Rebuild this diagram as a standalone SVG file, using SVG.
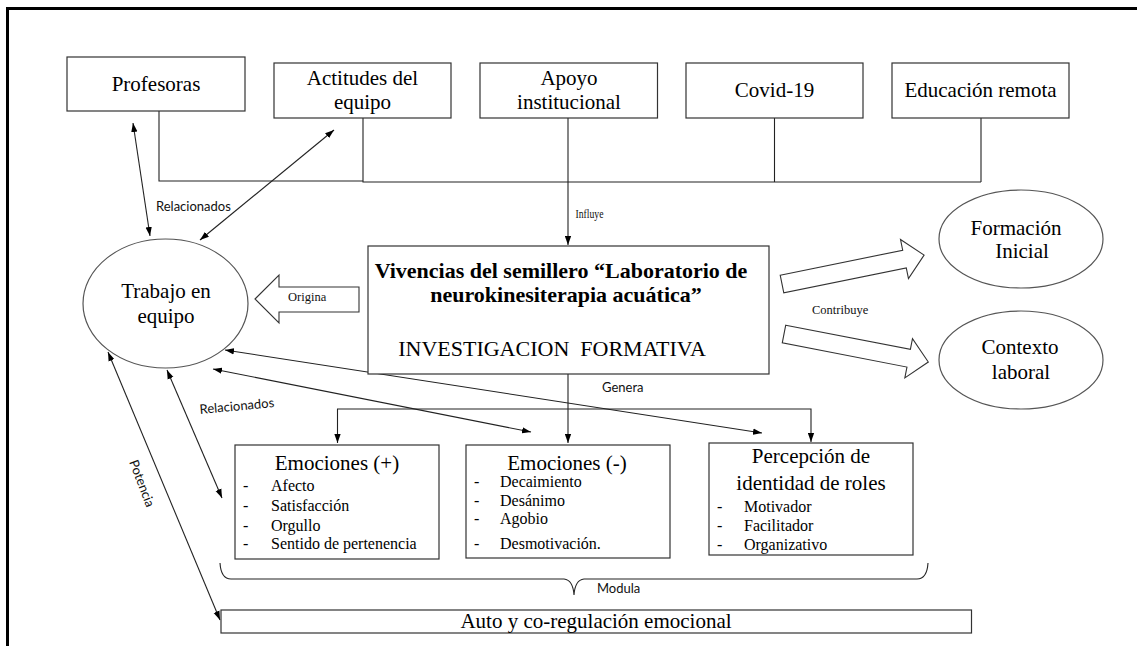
<svg xmlns="http://www.w3.org/2000/svg" width="1137" height="646" viewBox="0 0 1137 646">
<defs>
<marker id="ah" viewBox="0 0 10 7" refX="10" refY="3.5" markerWidth="9" markerHeight="7" markerUnits="userSpaceOnUse" orient="auto-start-reverse"><path d="M0,0 L10,3.5 L0,7 z" fill="#000"/></marker>
<style>
.box{fill:#fff;stroke:#333;stroke-width:1.2}
.ell{fill:#fff;stroke:#555;stroke-width:1.2}
.t{font-family:"Liberation Serif","Times New Roman",serif;fill:#000}
.c{text-anchor:middle}
.s21{font-size:21px}
.s16{font-size:16px}
.b{font-weight:bold}
.lbl{font-family:Lato,"Open Sans",sans-serif;font-size:13px;fill:#111}
.sl{font-family:"Liberation Serif","Times New Roman",serif;font-size:12.5px;fill:#111}
.ln{fill:none;stroke:#222;stroke-width:1.1}
.blk{fill:#fff;stroke:#333;stroke-width:1.1}
</style>
</defs>
<rect width="1137" height="646" fill="#fff"/>
<path d="M7.5,646 V8.5 H1137" fill="none" stroke="#000" stroke-width="3"/>

<g id="connectors">
<path class="ln" d="M159,111 V181 H363 M363,118 V182 H981 M774.5,118 V182 M981,118 V182"/>
<path class="ln" d="M568,118 V245" marker-end="url(#ah)"/>
<path class="ln" d="M133,123 L150,236" marker-start="url(#ah)" marker-end="url(#ah)"/>
<path class="ln" d="M334,130 L200,240" marker-start="url(#ah)" marker-end="url(#ah)"/>
<path class="ln" d="M225,350 L762,433" marker-start="url(#ah)" marker-end="url(#ah)"/>
<path class="ln" d="M213,369 L531,432" marker-start="url(#ah)" marker-end="url(#ah)"/>
<path class="ln" d="M167,370 L222,498" marker-start="url(#ah)" marker-end="url(#ah)"/>
<path class="ln" d="M108,352 L220,620" marker-start="url(#ah)" marker-end="url(#ah)"/>
<path class="ln" d="M568,374 V443" marker-end="url(#ah)"/>
<path class="ln" d="M337.5,443 V409 H811 V442" marker-start="url(#ah)" marker-end="url(#ah)"/>
<polygon class="blk" points="255,299 279,275 279,287 359,287 359,312 279,312 279,323"/>
<polygon class="blk" transform="translate(782,284) rotate(-11.5)" points="0,-9 125,-9 125,-20 145,0 125,20 125,9 0,9"/>
<polygon class="blk" transform="translate(784,334) rotate(11)" points="0,-9 127,-9 127,-20 147,0 127,20 127,9 0,9"/>
<path class="ln" d="M220,563 Q221,579 231,579 L564,579 Q573,580 574,595 Q575,580 584,579 L917,579 Q927,579 928,563"/>
<text class="sl" x="575.5" y="218" textLength="28" lengthAdjust="spacingAndGlyphs">Influye</text>
<text class="sl" x="288" y="301" font-size="13">Origina</text>
<text class="sl" x="812" y="314">Contribuye</text>
<text class="lbl" x="156" y="211">Relacionados</text>
<text class="lbl" x="200" y="414" transform="rotate(-5.3 200 414)">Relacionados</text>
<text class="lbl" x="129" y="462" transform="rotate(69 129 462)">Potencia</text>
<text class="lbl" x="602" y="392">Genera</text>
<text class="lbl" x="597" y="593">Modula</text>
</g>

<g id="profesoras"><rect class="box" x="67" y="57" width="178" height="54"/><text class="t s21 c" x="156" y="91">Profesoras</text></g>
<g id="actitudes"><rect class="box" x="274" y="63" width="177" height="55"/><text class="t s21 c" x="362.5" y="85">Actitudes del</text><text class="t s21 c" x="362.5" y="109">equipo</text></g>
<g id="apoyo"><rect class="box" x="480" y="63" width="177.5" height="55"/><text class="t s21 c" x="569" y="85">Apoyo</text><text class="t s21 c" x="569" y="109">institucional</text></g>
<g id="covid"><rect class="box" x="686" y="63" width="177" height="55"/><text class="t s21 c" x="774.5" y="97">Covid-19</text></g>
<g id="educacion"><rect class="box" x="892" y="63" width="177" height="55"/><text class="t s21 c" x="980.5" y="97">Educación remota</text></g>

<g id="trabajo"><ellipse class="ell" cx="165.5" cy="303.5" rx="82.5" ry="64.5"/><text class="t s21 c" x="166" y="298">Trabajo en</text><text class="t s21 c" x="166" y="323">equipo</text></g>

<g id="vivencias"><rect class="box" x="368" y="246" width="401" height="128"/>
<text class="t b c" font-size="22" x="561" y="277.5">Vivencias del semillero “Laboratorio de</text>
<text class="t b c" font-size="22" x="566" y="302">neurokinesiterapia acuática”</text>
<text class="t c" font-size="22" x="552" y="356" xml:space="preserve">INVESTIGACION  FORMATIVA</text></g>

<g id="formacion"><ellipse class="ell" cx="1021" cy="239" rx="82" ry="49"/><text class="t s21 c" x="1016" y="235">Formación</text><text class="t s21 c" x="1022" y="258">Inicial</text></g>
<g id="contexto"><ellipse class="ell" cx="1021" cy="360" rx="82" ry="49"/><text class="t s21 c" x="1020" y="354">Contexto</text><text class="t s21 c" x="1021" y="379">laboral</text></g>

<g id="emo-pos"><rect class="box" x="235" y="445" width="204" height="114"/>
<text class="t s21 c" x="337" y="470">Emociones (+)</text>
<g class="t s16"><text x="243" y="491">-</text><text x="271" y="491">Afecto</text>
<text x="243" y="511">-</text><text x="271" y="511">Satisfacción</text>
<text x="243" y="531">-</text><text x="271" y="531">Orgullo</text>
<text x="243" y="549">-</text><text x="271" y="549">Sentido de pertenencia</text></g></g>

<g id="emo-neg"><rect class="box" x="466" y="445" width="204" height="113"/>
<text class="t s21 c" x="567" y="470">Emociones (-)</text>
<g class="t s16"><text x="474" y="487">-</text><text x="500" y="487">Decaimiento</text>
<text x="474" y="506">-</text><text x="500" y="506">Desánimo</text>
<text x="474" y="524">-</text><text x="500" y="524">Agobio</text>
<text x="474" y="549">-</text><text x="500" y="549">Desmotivación.</text></g></g>

<g id="percepcion"><rect class="box" x="709" y="443" width="204" height="112"/>
<text class="t s21 c" x="811" y="463">Percepción de</text>
<text class="t s21 c" x="811" y="490">identidad de roles</text>
<g class="t s16"><text x="717" y="512">-</text><text x="744" y="512">Motivador</text>
<text x="717" y="531">-</text><text x="744" y="531">Facilitador</text>
<text x="717" y="550">-</text><text x="744" y="550">Organizativo</text></g></g>

<g id="regulacion"><rect class="box" x="221" y="610" width="750.5" height="23"/><text class="t s21 c" x="596" y="628">Auto y co-regulación emocional</text></g>
</svg>
